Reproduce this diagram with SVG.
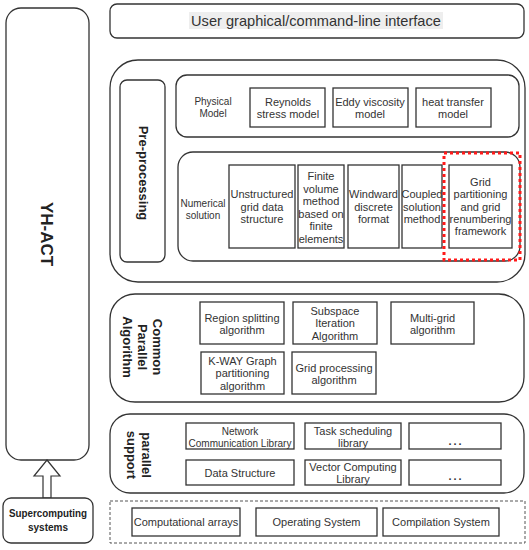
<svg xmlns="http://www.w3.org/2000/svg" width="529" height="550" viewBox="0 0 529 550">
<style>
  .box{fill:#fff;stroke:#333;stroke-width:1.3}
  .t{font-family:"Liberation Sans",Arial,sans-serif;font-size:11px;fill:#333;text-anchor:middle}
  .s{font-family:"Liberation Sans",Arial,sans-serif;font-size:10px;fill:#333;text-anchor:middle}
  .b{font-family:"Liberation Sans",Arial,sans-serif;font-weight:bold;fill:#222;text-anchor:middle}
  .d{font-family:"Liberation Sans",Arial,sans-serif;font-weight:bold;font-size:11px;letter-spacing:2px;fill:#333;text-anchor:middle}
</style>
<rect width="529" height="550" fill="#fff"/>

<g id="yhact">
  <rect class="box" x="6" y="8" width="83" height="452" rx="15"/>
  <text class="b" style="font-size:17px" transform="translate(47,234) rotate(90)" y="6">YH-ACT</text>
</g>

<g id="connectors">
  <path d="M47,460 L60,476 L51,476 L51,498 L43,498 L43,476 L34,476 Z" fill="#fff" stroke="#333" stroke-width="1.2"/>
</g>

<g id="supercomputing">
  <rect class="box" x="3" y="498" width="90" height="45" rx="8"/>
  <text class="b" style="font-size:10.5px" x="48" y="517" textLength="78" lengthAdjust="spacingAndGlyphs">Supercomputing</text>
  <text class="b" style="font-size:10.5px" x="48" y="531" textLength="40" lengthAdjust="spacingAndGlyphs">systems</text>
</g>

<g id="ui">
  <rect class="box" x="110" y="4" width="414" height="34" rx="7"/>
  <rect x="189" y="12" width="254" height="17" fill="#eeeeee"/>
  <text class="t" style="font-size:14.6px" x="316" y="26">User graphical/command-line interface</text>
</g>

<g id="preprocessing-container">
  <rect class="box" x="110" y="60" width="415" height="222" rx="28"/>
</g>
<g id="preprocessing">
  <rect class="box" x="120" y="80" width="45" height="182" rx="7"/>
  <text class="b" style="font-size:13px" transform="translate(143,173) rotate(90)" y="4.5">Pre-processing</text>
</g>

<g id="physical-model">
  <rect class="box" x="176" y="75" width="343" height="62" rx="11"/>
  <text class="s" x="213" y="105">Physical</text>
  <text class="s" x="213" y="117">Model</text>
</g>
<g id="reynolds">
  <rect class="box" x="250" y="88" width="75" height="39"/>
  <text class="t" x="288" y="106">Reynolds</text>
  <text class="t" x="288" y="118">stress model</text>
</g>
<g id="eddy">
  <rect class="box" x="333" y="88" width="75" height="39"/>
  <text class="t" x="370" y="106">Eddy viscosity</text>
  <text class="t" x="370" y="118">model</text>
</g>
<g id="heat">
  <rect class="box" x="416" y="88" width="75" height="39"/>
  <text class="t" x="453" y="106">heat transfer</text>
  <text class="t" x="453" y="118">model</text>
</g>

<g id="numerical-solution">
  <rect class="box" x="178" y="152" width="342" height="109" rx="15"/>
  <text class="s" x="203" y="207">Numerical</text>
  <text class="s" x="203" y="219">solution</text>
</g>
<g id="unstructured">
  <rect class="box" x="229" y="165" width="66" height="83"/>
  <text class="t" x="262" y="198">Unstructured</text>
  <text class="t" x="262" y="211">grid data</text>
  <text class="t" x="262" y="223">structure</text>
</g>
<g id="finite-volume">
  <rect class="box" x="298" y="165" width="46" height="83"/>
  <text class="t" x="321" y="180">Finite</text>
  <text class="t" x="321" y="192.5">volume</text>
  <text class="t" x="321" y="205">method</text>
  <text class="t" x="321" y="217.5">based on</text>
  <text class="t" x="321" y="230">finite</text>
  <text class="t" x="321" y="242.5">elements</text>
</g>
<g id="windward">
  <rect class="box" x="348" y="165" width="51" height="83"/>
  <text class="t" x="373.5" y="198">Windward</text>
  <text class="t" x="373.5" y="211">discrete</text>
  <text class="t" x="373.5" y="223">format</text>
</g>
<g id="coupled">
  <rect class="box" x="402" y="165" width="40" height="83"/>
  <text class="t" x="422" y="198">Coupled</text>
  <text class="t" x="422" y="211">solution</text>
  <text class="t" x="422" y="223">method</text>
</g>
<g id="grid-partitioning">
  <rect class="box" x="449" y="165" width="63" height="83"/>
  <text class="t" x="480.5" y="186">Grid</text>
  <text class="t" x="480.5" y="198">partitioning</text>
  <text class="t" x="480.5" y="211">and grid</text>
  <text class="t" x="480.5" y="223">renumbering</text>
  <text class="t" x="480.5" y="235">framework</text>
  <rect x="444" y="153" width="76" height="107" fill="none" stroke="#ff1a1a" stroke-width="3" stroke-dasharray="3,3"/>
</g>

<g id="common-parallel-algorithm">
  <rect class="box" x="110" y="294" width="414" height="108" rx="25"/>
  <text class="b" style="font-size:13px" transform="translate(157,347) rotate(90)" y="4.5">Common</text>
  <text class="b" style="font-size:13px" transform="translate(142,347) rotate(90)" y="4.5">Parallel</text>
  <text class="b" style="font-size:13px" transform="translate(127,347) rotate(90)" y="4.5">Algorithm</text>
</g>
<g id="region-splitting">
  <rect class="box" x="200" y="302" width="84" height="42"/>
  <text class="t" x="242" y="322">Region splitting</text>
  <text class="t" x="242" y="334">algorithm</text>
</g>
<g id="subspace">
  <rect class="box" x="293" y="302" width="84" height="42"/>
  <text class="t" x="335" y="315">Subspace</text>
  <text class="t" x="335" y="327">Iteration</text>
  <text class="t" x="335" y="340">Algorithm</text>
</g>
<g id="multigrid">
  <rect class="box" x="391" y="302" width="83" height="42"/>
  <text class="t" x="432.5" y="322">Multi-grid</text>
  <text class="t" x="432.5" y="334">algorithm</text>
</g>
<g id="kway">
  <rect class="box" x="201" y="352" width="83" height="42"/>
  <text class="t" x="242.5" y="365">K-WAY Graph</text>
  <text class="t" x="242.5" y="377">partitioning</text>
  <text class="t" x="242.5" y="390">algorithm</text>
</g>
<g id="grid-processing">
  <rect class="box" x="292" y="352" width="84" height="42"/>
  <text class="t" x="334" y="372">Grid processing</text>
  <text class="t" x="334" y="384">algorithm</text>
</g>

<g id="parallel-support">
  <rect class="box" x="110" y="414" width="414" height="79" rx="20"/>
  <text class="b" style="font-size:13px" transform="translate(146,455) rotate(90)" y="4.5">parallel</text>
  <text class="b" style="font-size:13px" transform="translate(131,455) rotate(90)" y="4.5">support</text>
</g>
<g id="network-comm">
  <rect class="box" x="186" y="423" width="108" height="26"/>
  <text class="s" x="240" y="435">Network</text>
  <text class="s" x="240" y="447">Communication Library</text>
</g>
<g id="task-scheduling">
  <rect class="box" x="305" y="423" width="96" height="26"/>
  <text class="t" x="353" y="435">Task scheduling</text>
  <text class="t" x="353" y="447">library</text>
</g>
<g id="dots1">
  <rect class="box" x="409" y="423" width="92" height="26"/>
  <text class="d" x="456" y="445">...</text>
</g>
<g id="data-structure">
  <rect class="box" x="186" y="460" width="108" height="25"/>
  <text class="t" x="240" y="477">Data Structure</text>
</g>
<g id="vector-computing">
  <rect class="box" x="305" y="460" width="96" height="25"/>
  <text class="t" x="353" y="471">Vector Computing</text>
  <text class="t" x="353" y="483">Library</text>
</g>
<g id="dots2">
  <rect class="box" x="409" y="460" width="92" height="25"/>
  <text class="d" x="456" y="480">...</text>
</g>

<g id="system-layer">
  <rect x="110" y="501" width="415" height="42" fill="none" stroke="#555" stroke-width="1" stroke-dasharray="3,2"/>
</g>
<g id="computational-arrays">
  <rect class="box" x="132" y="508" width="108" height="28"/>
  <text class="t" x="186" y="526">Computational arrays</text>
</g>
<g id="operating-system">
  <rect class="box" x="256" y="508" width="121" height="28"/>
  <text class="t" x="316.5" y="526">Operating System</text>
</g>
<g id="compilation-system">
  <rect class="box" x="383" y="508" width="116" height="28"/>
  <text class="t" x="441" y="526">Compilation System</text>
</g>
</svg>
